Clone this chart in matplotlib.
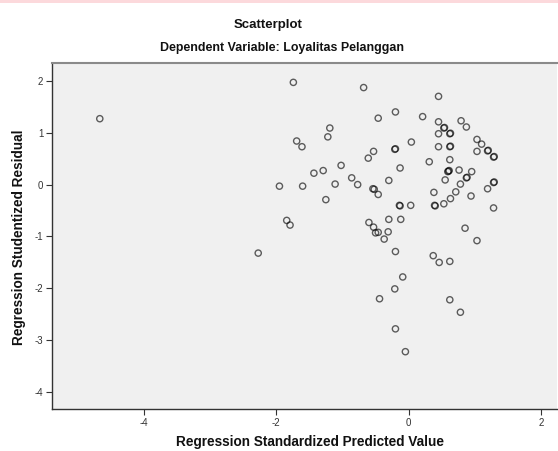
import numpy as np
import matplotlib
matplotlib.use('Agg')
import matplotlib.pyplot as plt
from matplotlib.patches import Rectangle

plt.rcParams['font.family'] = ['Liberation Sans', 'DejaVu Sans']

# Regression standardized predicted value (x) and studentized residual (y)
pred = [-4.66, -2.27, -1.74, -0.68, -0.46, -0.20, -1.19, -1.22, -1.69, -1.61,
        -0.53, -0.61, -0.21, -0.20, -1.02, -1.29, -1.43, -0.86, -1.11, -0.77,
        -1.95, -1.60, -0.30, -0.54, -0.52, -0.46, -1.25, 0.45, 0.21, 0.45,
        0.53, 0.54, 0.62, 0.63, 0.45, 0.79, 0.87, 1.03, 1.10, 1.03,
        1.19, 1.20, 1.28, 1.29, 0.45, 0.62, 0.63, 0.04, 0.62, 0.31,
        -0.13, 0.60, 0.61, 0.59, 0.76, 0.95, 0.55, 0.87, 0.88, 0.78,
        1.28, 1.29, 1.19, 0.71, 0.38, 0.63, 0.94, 0.53, -0.14, -0.13,
        0.03, 0.39, 0.40, 1.28, -1.84, -1.79, -0.60, -0.53, -0.50, -0.46,
        -0.30, -0.31, -0.37, -0.20, -0.44, -0.21, -0.20, -0.12, 0.85, 1.03,
        0.37, 0.46, 0.62, -0.09, 0.62, 0.78, -0.05]
resid = [1.27, -1.32, 1.97, 1.87, 1.28, 1.40, 1.09, 0.92, 0.84, 0.73,
         0.64, 0.51, 0.68, 0.69, 0.37, 0.27, 0.22, 0.13, 0.01, 0.00,
         -0.03, -0.03, 0.08, -0.08, -0.09, -0.19, -0.29, 1.70, 1.31, 1.21,
         1.09, 1.10, 0.98, 0.99, 0.98, 1.23, 1.11, 0.87, 0.78, 0.64,
         0.65, 0.66, 0.53, 0.54, 0.73, 0.73, 0.74, 0.82, 0.48, 0.44,
         0.32, 0.26, 0.27, 0.25, 0.28, 0.25, 0.09, 0.13, 0.14, 0.01,
         0.04, 0.05, -0.08, -0.14, -0.15, -0.27, -0.22, -0.37, -0.40, -0.41,
         -0.40, -0.40, -0.41, -0.45, -0.69, -0.78, -0.73, -0.82, -0.93, -0.92,
         -0.67, -0.91, -1.05, -1.29, -2.20, -2.01, -2.78, -0.67, -0.84, -1.08,
         -1.37, -1.50, -1.48, -1.78, -2.22, -2.46, -3.22]

title = 'Scatterplot'
subtitle = 'Dependent Variable: Loyalitas Pelanggan'
xlabel = 'Regression Standardized Predicted Value'
ylabel = 'Regression Studentized Residual'

fig = plt.figure(figsize=(5.58, 4.51), dpi=100)
fig.patch.set_facecolor('white')

# thin pink strip at the top of the screenshot
fig.add_artist(Rectangle((0, 0.993), 1, 0.007, transform=fig.transFigure,
                         facecolor='#fcd9dc', edgecolor='none'))

ax = fig.add_axes([0.0927, 0.0925, 0.9055, 0.768])
ax.set_facecolor('#f0f0f0')

ax.scatter(pred, resid, s=20, facecolors='none', edgecolors='black',
           linewidths=1.0, alpha=0.62, zorder=3)

ax.set_xlim(-5.385, 2.237)
ax.set_ylim(-4.33, 2.345)
ax.set_xticks([-4, -2, 0, 2])
ax.set_yticks([-4, -3, -2, -1, 0, 1, 2])
ax.set_xticklabels(['-4', '-2', '0', '2'])
ax.set_yticklabels(['-4', '-3', '-2', '-1', '0', '1', '2'])
ax.tick_params(direction='out', length=4.5, width=0.8, colors='#333333',
               labelsize=7, pad=1.5)

for side in ['left', 'bottom']:
    ax.spines[side].set_color('#333333')
    ax.spines[side].set_linewidth(1.0)
ax.spines['top'].set_color('#8a8a8a')
ax.spines['top'].set_linewidth(1.5)
ax.spines['right'].set_visible(False)

fig.text(268 / 558, 1 - 25 / 451, title, ha='center', va='center',
         fontsize=9.5, fontweight='bold', color='#111111')
fig.text(282 / 558, 1 - 48 / 451, subtitle, ha='center', va='center',
         fontsize=8.9, fontweight='bold', color='#111111')
fig.text(310 / 558, 1 - 442 / 451, xlabel, ha='center', va='center',
         fontsize=9.8, fontweight='bold', color='#111111')
fig.text(19 / 558, 1 - 237 / 451, ylabel, ha='center', va='center',
         rotation=90, fontsize=9.8, fontweight='bold', color='#111111')

fig.savefig('out.png', dpi=100)
